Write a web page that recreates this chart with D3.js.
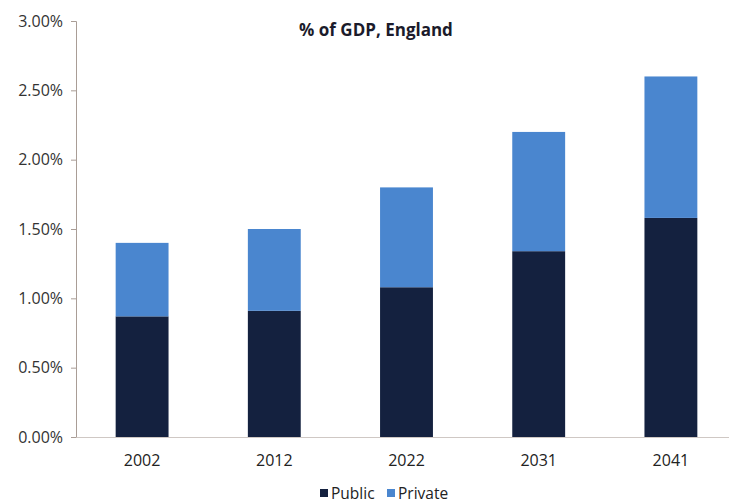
<!DOCTYPE html>
<html><head><meta charset="utf-8">
<script src="https://cdn.jsdelivr.net/npm/d3@7"></script>
<style>body{margin:0;background:#fff}svg{display:block}text{font-family:"Open Sans","Liberation Sans",sans-serif}</style>
</head><body><svg id="c" width="729" height="504"></svg>
<script>
const years = ["2002","2012","2022","2031","2041"];
const publicVals = [0.87,0.91,1.08,1.34,1.58];
const privateVals = [0.53,0.59,0.72,0.86,1.02];
const yTicks = [0,0.5,1.0,1.5,2.0,2.5,3.0];
const seriesNames = ["Public","Private"];
const colors = ["#14213f","#4a86cf"];

const svg = d3.select("#c");
const x = d3.scaleBand().domain(years).range([76,737]).paddingInner(0.6).paddingOuter(0.3);
const y = d3.scaleLinear().domain([0,3]).range([437,21]);

const data = years.map((yr,i)=>({year:yr, Public:publicVals[i], Private:privateVals[i]}));
const stack = d3.stack().keys(seriesNames)(data);

svg.append("g").selectAll("g").data(stack).join("g").attr("fill",(d,i)=>colors[i])
 .selectAll("rect").data(d=>d).join("rect")
 .attr("x",d=>x(d.data.year)).attr("width",x.bandwidth())
 .attr("y",d=>y(d[1])).attr("height",d=>y(d[0])-y(d[1]));

// y axis
const ya = svg.append("g").attr("transform","translate(76,0)")
 .call(d3.axisLeft(y).tickValues(yTicks).tickFormat(d=>d.toFixed(2)+"%").tickSize(5).tickPadding(8));
ya.select(".domain").attr("stroke","#a99d96");
ya.selectAll(".tick line").attr("stroke","#a99d96");
ya.selectAll("text").attr("font-size",16).attr("fill","#333");

// x axis
const xa = svg.append("g").attr("transform","translate(0,437)")
 .call(d3.axisBottom(x).tickSize(0).tickPadding(18));
xa.select(".domain").attr("stroke","#cfc8c4");
xa.selectAll("text").attr("font-size",16).attr("fill","#222");

svg.append("text").attr("x",376).attr("y",36).attr("text-anchor","middle")
 .attr("font-size",17).attr("font-weight","bold").attr("fill","#1b1b2b").text("% of GDP, England");

// legend
const leg = svg.append("g");
const lx = [320,387];
seriesNames.forEach((n,i)=>{
  leg.append("rect").attr("x",lx[i]).attr("y",489).attr("width",8).attr("height",8).attr("fill",colors[i]);
  leg.append("text").attr("x",lx[i]+11).attr("y",499).attr("font-size",15.5).attr("fill","#222").text(n);
});
</script></body></html>
